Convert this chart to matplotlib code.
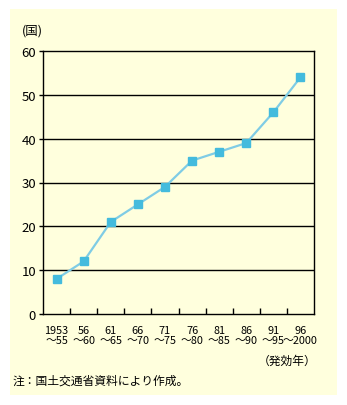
import matplotlib
matplotlib.use("Agg")
import matplotlib.pyplot as plt
from matplotlib.patches import Rectangle

plt.rcParams['font.family'] = ['Noto Sans CJK JP', 'DejaVu Sans']

# 発効年ごとの国の数
periods = ["1953\n～55", "56\n～60", "61\n～65", "66\n～70", "71\n～75",
           "76\n～80", "81\n～85", "86\n～90", "91\n～95", "96\n～2000"]
counts = [8, 12, 21, 25, 29, 35, 37, 39, 46, 54]
yticks = [0, 10, 20, 30, 40, 50, 60]

fig = plt.figure(figsize=(3.47, 4.06), dpi=100)
fig.patches.append(Rectangle((10 / 347, 10 / 406), 327 / 347, 386 / 406,
                             transform=fig.transFigure, facecolor="#FFFFDD",
                             edgecolor="none", zorder=-5))

ax = fig.add_axes([43 / 347, 91 / 406, 271 / 347, 263 / 406])
ax.set_zorder(2)
ax.set_facecolor("#FFFFDD")

x = list(range(len(counts)))
ax.plot(x, counts, color="#7FCCE5", linewidth=1.6, zorder=3)
ax.plot(x, counts, linestyle="none", marker="s", markersize=5.5,
        color="#44BBDD", zorder=4)

ax.set_xlim(-0.5, len(counts) - 0.5)
ax.set_ylim(0, 60)
ax.set_yticks(yticks)
ax.set_yticklabels([str(v) for v in yticks], fontsize=9.5)
for v in yticks[1:-1]:
    ax.axhline(v, color="black", linewidth=1, zorder=2)

ax.set_xticks(x)
ax.set_xticklabels(periods, fontsize=7.8, linespacing=1.0)
ax.tick_params(axis="x", which="major", length=0, pad=8)
ax.set_xticks([i + 0.5 for i in x[:-1]], minor=True)
ax.tick_params(axis="x", which="minor", direction="in", length=4, width=1)
ax.tick_params(axis="y", length=3, width=1, pad=2)

for s in ax.spines.values():
    s.set_color("black")
    s.set_linewidth(1)

fig.text(22 / 347, 1 - 31 / 406, "(国)", fontsize=9, va="center")
fig.text(317 / 347, 1 - 361 / 406, "（発効年）", fontsize=8.5, ha="right", va="center")
fig.text(13 / 347, 1 - 381 / 406, "注：国土交通省資料により作成。", fontsize=8.5, va="center")

fig.savefig("out.png", dpi=100)
